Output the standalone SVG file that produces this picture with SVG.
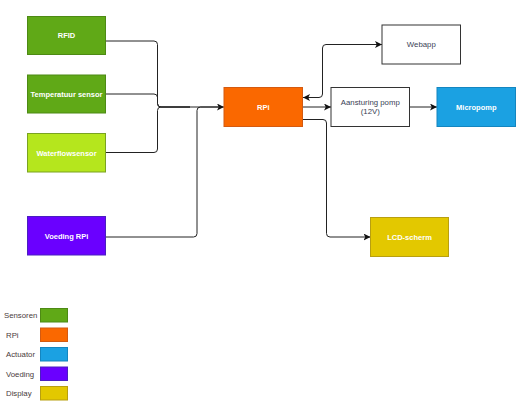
<svg xmlns="http://www.w3.org/2000/svg" width="528" height="415" viewBox="0 0 528 415">
<defs>
<style>
.n{stroke-width:1}
.w{fill:#fff;stroke:#333}
.lt{font-family:"Liberation Sans",Arial,sans-serif;font-size:7.5px;font-weight:bold;fill:#fff;text-anchor:middle}
.dt{font-family:"Liberation Sans",Arial,sans-serif;font-size:7.8px;fill:#3a4255;text-anchor:middle}
.lg{font-family:"Liberation Sans",Arial,sans-serif;font-size:7.8px;fill:#4a3c3c}
.c{fill:none;stroke:#222;stroke-width:1}
</style>
<marker id="ah" viewBox="0 0 10 10" refX="10" refY="5" markerWidth="7" markerHeight="7" markerUnits="userSpaceOnUse" orient="auto-start-reverse">
<path d="M0,0 L10,5 L0,10 L2.5,5 Z" fill="#111"/>
</marker>
</defs>
<rect width="528" height="415" fill="#fff"/>
<g id="connectors">
<path class="c" d="M106,41 H154 Q157.5,41 157.5,44.5 V103.5 Q157.5,107 161,107 H224" marker-end="url(#ah)"/>
<path class="c" d="M106,94 H154 Q157.5,94 157.5,97.5 V103.5 Q157.5,107 161,107 H190"/>
<path class="c" d="M106,152.5 H154 Q157.5,152.5 157.5,149 V110.5 Q157.5,107 161,107 H190"/>
<path class="c" d="M106,237 H193.5 Q197,237 197,233.5 V110.5 Q197,107 200.5,107 H220"/>
<path class="c" d="M303,97.5 H319 Q322.5,97.5 322.5,94 V48 Q322.5,44.5 326,44.5 H382" marker-start="url(#ah)" marker-end="url(#ah)"/>
<path class="c" d="M303,107 H331" marker-end="url(#ah)"/>
<path class="c" d="M303,119.5 H323 Q326.5,119.5 326.5,123 V233.5 Q326.5,237 330,237 H370.5" marker-end="url(#ah)"/>
<path class="c" d="M410,107 H437" marker-end="url(#ah)"/>
</g>
<g id="rfid"><rect x="27.5" y="16.5" width="78" height="38" fill="#60a917" stroke="#4d8a14"/><text class="lt" x="66.5" y="38">RFID</text></g>
<g id="temperatuur"><rect x="27.5" y="75" width="78" height="38" fill="#60a917" stroke="#4d8a14"/><text class="lt" x="66.5" y="96.7">Temperatuur sensor</text></g>
<g id="waterflow"><rect x="27.5" y="133.5" width="78" height="38.5" fill="#b5e61d" stroke="#7aa321"/><text class="lt" x="66.5" y="155.5">Waterflowsensor</text></g>
<g id="voeding"><rect x="27.5" y="216.5" width="78" height="38.5" fill="#6a00ff" stroke="#4a1fc0"/><text class="lt" x="66.5" y="238.5">Voeding RPi</text></g>
<g id="rpi"><rect x="224" y="87.5" width="78.5" height="39" fill="#fa6800" stroke="#d45a10"/><text class="lt" x="263.3" y="109.5">RPi</text></g>
<g id="aansturing"><rect class="w" x="331" y="87.5" width="78.5" height="39"/><text class="dt" x="370.3" y="105.2">Aansturing pomp</text><text class="dt" x="370.3" y="113.5">(12V)</text></g>
<g id="webapp"><rect class="w" x="382" y="25" width="78.5" height="39"/><text class="dt" x="421.3" y="47">Webapp</text></g>
<g id="micropomp"><rect x="437" y="87.5" width="78.5" height="39" fill="#1ba1e2" stroke="#1486c0"/><text class="lt" x="476.3" y="109.5">Micropomp</text></g>
<g id="lcd"><rect x="370.5" y="217.5" width="78" height="39" fill="#e3c800" stroke="#b89f10"/><text class="lt" x="409.5" y="239.5">LCD-scherm</text></g>
<g id="legend">
<rect x="40.5" y="308.5" width="27" height="13.5" fill="#60a917" stroke="#4d8a14"/><text class="lg" x="4" y="318">Sensoren</text>
<rect x="40.5" y="328" width="27" height="13.5" fill="#fa6800" stroke="#d45a10"/><text class="lg" x="6" y="337.5">RPi</text>
<rect x="40.5" y="347.5" width="27" height="13.5" fill="#1ba1e2" stroke="#1486c0"/><text class="lg" x="6" y="357">Actuator</text>
<rect x="40.5" y="367" width="27" height="13.5" fill="#6a00ff" stroke="#4a1fc0"/><text class="lg" x="6" y="376.5">Voeding</text>
<rect x="40.5" y="386.5" width="27" height="13.5" fill="#e3c800" stroke="#b89f10"/><text class="lg" x="6" y="396">Display</text>
</g>
</svg>
